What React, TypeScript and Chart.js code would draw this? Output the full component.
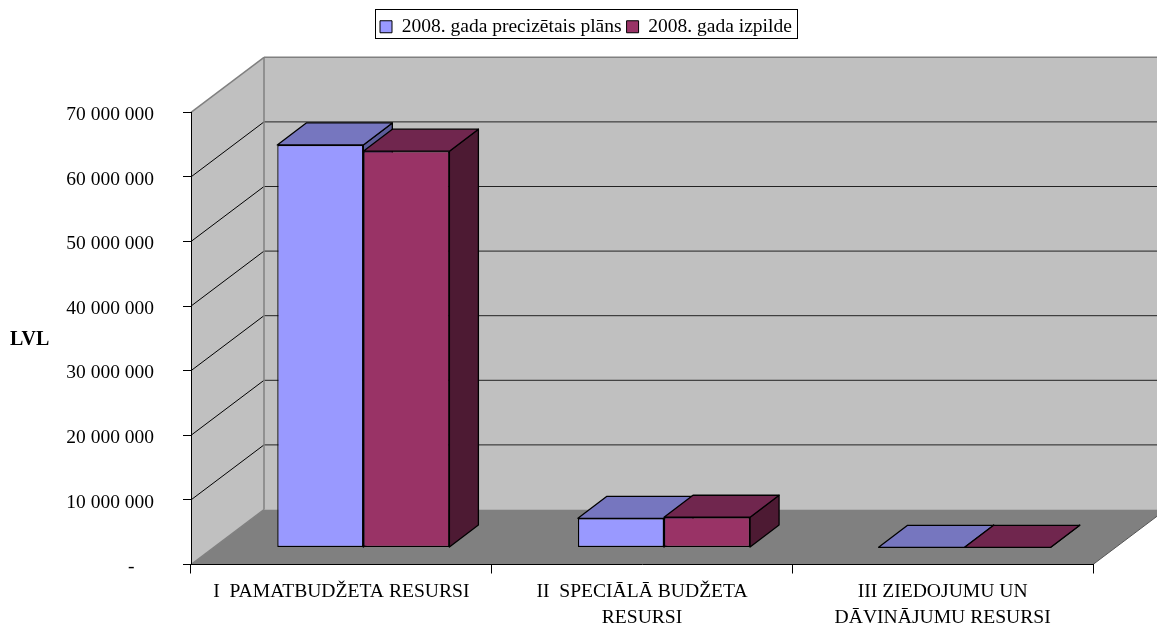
import React, { useEffect, useRef } from "react";
import { Chart, registerables } from "chart.js";

Chart.register(...registerables);

const categories = [
  "I  PAMATBUDŽETA RESURSI",
  ["II  SPECIĀLĀ BUDŽETA", "RESURSI"],
  ["III ZIEDOJUMU UN", "DĀVINĀJUMU RESURSI"],
];
const planLabel = "2008. gada precizētais plāns";
const doneLabel = "2008. gada izpilde";
const planValues = [62320000, 4520000, 30000];
const doneValues = [61350000, 4680000, 25000];
const yMax = 70000000;
const yStep = 10000000;
const axisTitle = "LVL";

const FONT = "'Liberation Serif'";
const WALL = "#C0C0C0";
const FLOOR = "#808080";
const EDGE = "#808080";
const faces = [
  { front: "#9999FF", top: "#7676BF", side: "#5C5C99" },
  { front: "#993366", top: "#70264E", side: "#4D1A33" },
];
const WALL_DX = 73;
const WALL_DY = -55;
const BAR_OFF_X = 22;
const BAR_OFF_Y = -17;
const BAR_DX = 29;
const BAR_DY = -22;

const poly = (ctx: CanvasRenderingContext2D, pts: number[][], fill: string | null, stroke: string | null, lw = 1) => {
  ctx.beginPath();
  pts.forEach(([x, y], i) => (i ? ctx.lineTo(x, y) : ctx.moveTo(x, y)));
  ctx.closePath();
  if (fill) {
    ctx.fillStyle = fill;
    ctx.fill();
  }
  if (stroke) {
    ctx.strokeStyle = stroke;
    ctx.lineWidth = lw;
    ctx.lineJoin = "round";
    ctx.stroke();
  }
};

const line = (ctx: CanvasRenderingContext2D, x0: number, y0: number, x1: number, y1: number, c: string, lw = 1) => {
  ctx.beginPath();
  ctx.moveTo(x0, y0);
  ctx.lineTo(x1, y1);
  ctx.strokeStyle = c;
  ctx.lineWidth = lw;
  ctx.stroke();
};

const box3d = {
  id: "box3d",
  beforeLayout(chart: any) {
    const L = chart.legend;
    if (L && !L._sized) {
      const fit = L.fit;
      L.fit = function () {
        fit.call(this);
        this.height = 112.3;
      };
      L._sized = true;
    }
  },
  afterLayout(chart: any) {
    const L = chart.legend;
    const w = L.right - L.left;
    L.left = 375;
    L.right = L.left + w;
    L.top = 12;
  },
  beforeDatasetsDraw(chart: any) {
    const { ctx, chartArea: a, scales } = chart;
    const y = scales.y;
    const x0 = a.left;
    const x1 = a.right;
    const yb = a.bottom;
    const yt = a.top;
    ctx.save();
    poly(ctx, [[x0 + WALL_DX, yt + WALL_DY], [x1 + WALL_DX, yt + WALL_DY], [x1 + WALL_DX, yb + WALL_DY], [x0 + WALL_DX, yb + WALL_DY]], WALL, null);
    poly(ctx, [[x0, yt], [x0 + WALL_DX, yt + WALL_DY], [x0 + WALL_DX, yb + WALL_DY], [x0, yb]], WALL, null);
    poly(ctx, [[x0, yb], [x1, yb], [x1 + WALL_DX, yb + WALL_DY], [x0 + WALL_DX, yb + WALL_DY]], FLOOR, null);
    y.ticks.forEach((t: any) => {
      if (t.value === 0 || t.value === yMax) return;
      const p = y.getPixelForValue(t.value);
      line(ctx, x0, p, x0 + WALL_DX, p + WALL_DY, "#000");
      line(ctx, x0 + WALL_DX, p + WALL_DY, x1 + WALL_DX, p + WALL_DY, "#222");
    });
    line(ctx, x0, yt, x0 + WALL_DX, yt + WALL_DY, EDGE, 1.5);
    line(ctx, x0 + WALL_DX, yt + WALL_DY, x1 + WALL_DX, yt + WALL_DY, EDGE, 1.5);
    line(ctx, x0 + WALL_DX, yt + WALL_DY, x0 + WALL_DX, yb + WALL_DY, EDGE, 1.5);
    line(ctx, x0, yb, x0 + WALL_DX, yb + WALL_DY, EDGE, 1.5);
    line(ctx, x1, yb, x1 + WALL_DX, yb + WALL_DY, "#555", 1);
    chart.data.datasets.forEach((_: any, i: number) => {
      const meta = chart.getDatasetMeta(i);
      ctx.save();
      ctx.translate(BAR_OFF_X, BAR_OFF_Y);
      meta.data.forEach((bar: any) => {
        const { x, y: top, base, width } = bar.getProps(["x", "y", "base", "width"], true);
        const l = x - width / 2;
        const r = x + width / 2;
        poly(ctx, [[r, top], [r + BAR_DX, top + BAR_DY], [r + BAR_DX, base + BAR_DY], [r, base]], faces[i].side, "#000", 1.3);
        poly(ctx, [[l, top], [l + BAR_DX, top + BAR_DY], [r + BAR_DX, top + BAR_DY], [r, top]], faces[i].top, "#000", 1.3);
      });
      meta.controller.draw();
      ctx.restore();
    });
    ctx.restore();
    return false;
  },
  afterDraw(chart: any) {
    const { ctx, chartArea: a } = chart;
    ctx.save();
    ctx.strokeStyle = "#000";
    ctx.lineWidth = 1;
    ctx.strokeRect(375.5, 9.5, 422, 29);
    ctx.fillStyle = "#000";
    ctx.font = `bold 20px ${FONT}`;
    ctx.textBaseline = "middle";
    ctx.textAlign = "left";
    ctx.fillText(axisTitle, 10, (a.top + a.bottom) / 2 + 1);
    ctx.restore();
  },
};

export default function App() {
  const ref = useRef<HTMLCanvasElement>(null);
  useEffect(() => {
    const chart = new Chart(ref.current!, {
      type: "bar",
      data: {
        labels: categories as any,
        datasets: [
          { label: planLabel, data: planValues, backgroundColor: faces[0].front, borderColor: "#000", borderWidth: 1.3, borderSkipped: false },
          { label: doneLabel, data: doneValues, backgroundColor: faces[1].front, borderColor: "#000", borderWidth: 1.3, borderSkipped: false },
        ],
      },
      plugins: [box3d],
      options: {
        responsive: false,
        animation: false,
        layout: { padding: { left: 0, top: 0, right: 64, bottom: 0 }, autoPadding: false },
        plugins: {
          legend: {
            position: "top",
            align: "start",
            onClick: () => {},
            labels: {
              font: { family: FONT, size: 19.5 },
              color: "#000",
              boxWidth: 12,
              boxHeight: 12,
              padding: 5,
              generateLabels: (c: any) =>
                c.data.datasets.map((d: any, i: number) => ({
                  text: d.label,
                  fillStyle: d.backgroundColor,
                  strokeStyle: "#000",
                  lineWidth: 1,
                  datasetIndex: i,
                })),
            },
          },
          tooltip: { enabled: false },
        },
        scales: {
          x: {
            afterFit: (s: any) => {
              s.height = 60.5;
            },
            grid: { drawOnChartArea: false, drawTicks: true, tickLength: 9, color: "#000", z: 1 },
            border: { display: true, color: "#000", width: 1, z: 1 },
            ticks: {
              autoSkip: false,
              maxRotation: 0,
              minRotation: 0,
              padding: 5.5,
              color: "#000",
              font: { family: FONT, size: 19.6, lineHeight: 1.33 },
            },
          },
          y: {
            min: 0,
            max: yMax,
            afterFit: (s: any) => {
              s.width = 191;
            },
            grid: { drawOnChartArea: false, drawTicks: true, tickLength: 8, color: "#000", z: 1 },
            border: { display: true, color: "#000", width: 1, z: 1 },
            ticks: {
              stepSize: yStep,
              padding: 29,
              labelOffset: 2.5,
              color: "#000",
              font: { family: FONT, size: 19.5 },
              callback: (v: any) =>
                v === 0 ? "-    " : String(v).replace(/\B(?=(\d{3})+(?!\d))/g, " "),
            },
          },
        },
        datasets: { bar: { barPercentage: 1, categoryPercentage: 0.5725 } },
      } as any,
    });
    return () => chart.destroy();
  }, []);
  return (
    <canvas
      ref={ref}
      width={1157}
      height={625}
      style={{ position: "absolute", left: 0, top: 0, display: "block", background: "#fff" }}
    />
  );
}
